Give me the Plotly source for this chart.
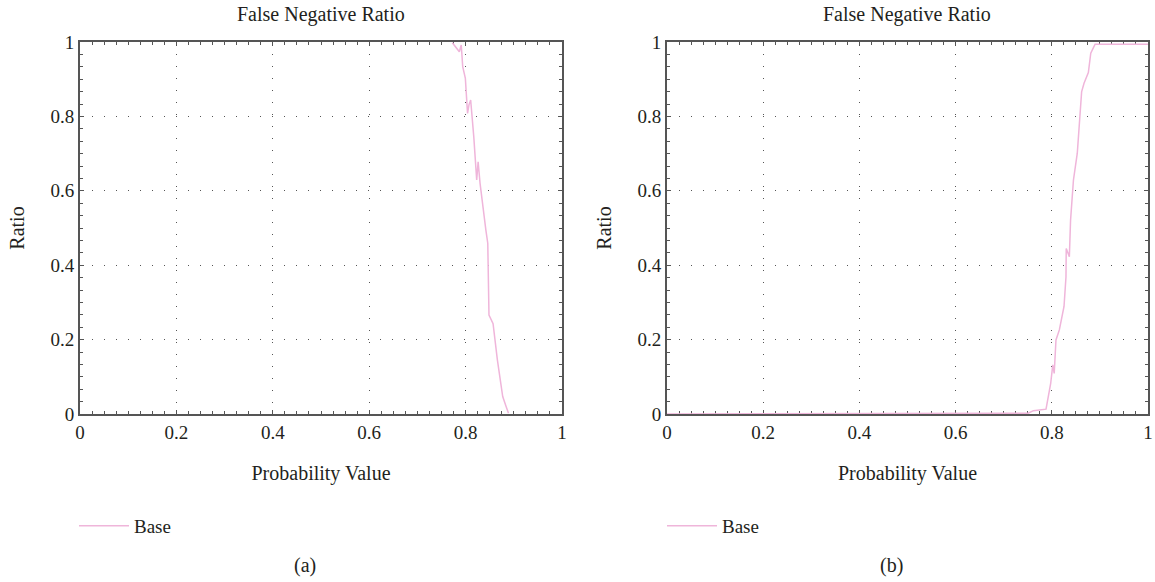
import plotly.graph_objects as go

# ---- data ----
fn_a_x = [0.7725, 0.787, 0.791, 0.794, 0.7995, 0.804, 0.807, 0.8105, 0.817, 0.823,
          0.826, 0.830, 0.842, 0.846, 0.8485, 0.857, 0.866, 0.877, 0.884, 0.889]
fn_a_y = [0.998, 0.974, 0.992, 0.934, 0.902, 0.808, 0.831, 0.844, 0.745, 0.629,
          0.678, 0.620, 0.495, 0.459, 0.266, 0.243, 0.145, 0.047, 0.020, 0.002]

fn_b_x = [0.0, 0.751, 0.7617, 0.788, 0.7977, 0.802, 0.805, 0.8087, 0.8157, 0.8254,
          0.8295, 0.830, 0.8365, 0.839, 0.845, 0.853, 0.862, 0.867, 0.876, 0.881,
          0.890, 1.0]
fn_b_y = [0.0, 0.002, 0.009, 0.013, 0.082, 0.132, 0.109, 0.199, 0.226, 0.289,
          0.369, 0.445, 0.423, 0.521, 0.629, 0.701, 0.866, 0.889, 0.918, 0.970,
          0.994, 0.994]

series_name = "Base"
panel_title = "False Negative Ratio"
x_title = "Probability Value"
y_title = "Ratio"
panel_labels = ["(a)", "(b)"]
tick_vals = [0, 0.2, 0.4, 0.6, 0.8, 1]
tick_text = ["0", "0.2", "0.4", "0.6", "0.8", "1"]

FONT = "Liberation Serif"
TXT = "#231f20"
AX = "#555555"
PINK = "#EFB5DA"

W, H = 1155, 582
L, R, T, B = 80, 7, 42, 168
plot_w = W - L - R
plot_h = H - T - B
dom_a = [0, 482 / plot_w]
dom_b = [587 / plot_w, 1]

fig = go.Figure()
fig.add_trace(go.Scatter(x=fn_a_x, y=fn_a_y, mode="lines", name=series_name,
                         line=dict(color=PINK, width=1.5), xaxis="x", yaxis="y",
                         legend="legend"))
fig.add_trace(go.Scatter(x=fn_b_x, y=fn_b_y, mode="lines", name=series_name,
                         line=dict(color=PINK, width=1.5), xaxis="x2", yaxis="y2",
                         legend="legend2"))


def common_axis():
    return dict(range=[0, 1], tickvals=tick_vals, ticktext=tick_text,
                showgrid=True, gridcolor=AX, gridwidth=1, griddash="1px,11px",
                zeroline=False, showline=True, linecolor=AX, linewidth=2,
                mirror="allticks", ticks="inside", ticklen=4, tickcolor=AX,
                tickwidth=1, layer="below traces", automargin=False,
                tickfont=dict(family=FONT, size=19, color=TXT), fixedrange=True)


def xax(domain, anchor):
    d = common_axis()
    d.update(domain=domain, anchor=anchor,
             minor=dict(dtick=0.025, ticks="inside", ticklen=3, tickcolor=AX,
                        tickwidth=1, showgrid=False),
             title=dict(text=x_title, font=dict(family=FONT, size=20, color=TXT),
                        standoff=24))
    return d


def yax(anchor, standoff):
    d = common_axis()
    d.update(domain=[0, 1], anchor=anchor,
             minor=dict(dtick=1 / 30, ticks="inside", ticklen=3, tickcolor=AX,
                        tickwidth=1, showgrid=False),
             title=dict(text=y_title, font=dict(family=FONT, size=20, color=TXT),
                        standoff=standoff))
    return d


leg_common = dict(orientation="h", bgcolor="rgba(0,0,0,0)", borderwidth=0,
                  font=dict(family=FONT, size=19, color=TXT), itemwidth=50,
                  yanchor="middle", xanchor="left")

fig.update_layout(
    width=W, height=H,
    margin=dict(l=L, r=R, t=T, b=B, autoexpand=False),
    paper_bgcolor="white", plot_bgcolor="white",
    xaxis=xax(dom_a, "y"), yaxis=yax("x", 20),
    xaxis2=xax(dom_b, "y2"), yaxis2=yax("x2", 20),
    showlegend=True,
    legend=dict(x=-6 / plot_w, y=-112 / plot_h, **leg_common),
    legend2=dict(x=(588 - 6) / plot_w, y=-112 / plot_h, **leg_common),
)

centers = [(dom_a[0] + dom_a[1]) / 2, (dom_b[0] + dom_b[1]) / 2]
for c, lab in zip(centers, panel_labels):
    fig.add_annotation(x=c, y=(372 + 28) / plot_h, xref="paper", yref="paper",
                       text=panel_title, showarrow=False, xanchor="center",
                       yanchor="middle", font=dict(family=FONT, size=20, color=TXT))
    fig.add_annotation(x=c - 16 / plot_w, y=-151 / plot_h, xref="paper",
                       yref="paper", text=lab, showarrow=False, xanchor="center",
                       yanchor="middle", font=dict(family=FONT, size=20, color=TXT))

fig.write_html(
    "out.html",
    config={"displayModeBar": False},
    post_script="document.body.style.margin='0';document.body.style.overflow='hidden';",
)
